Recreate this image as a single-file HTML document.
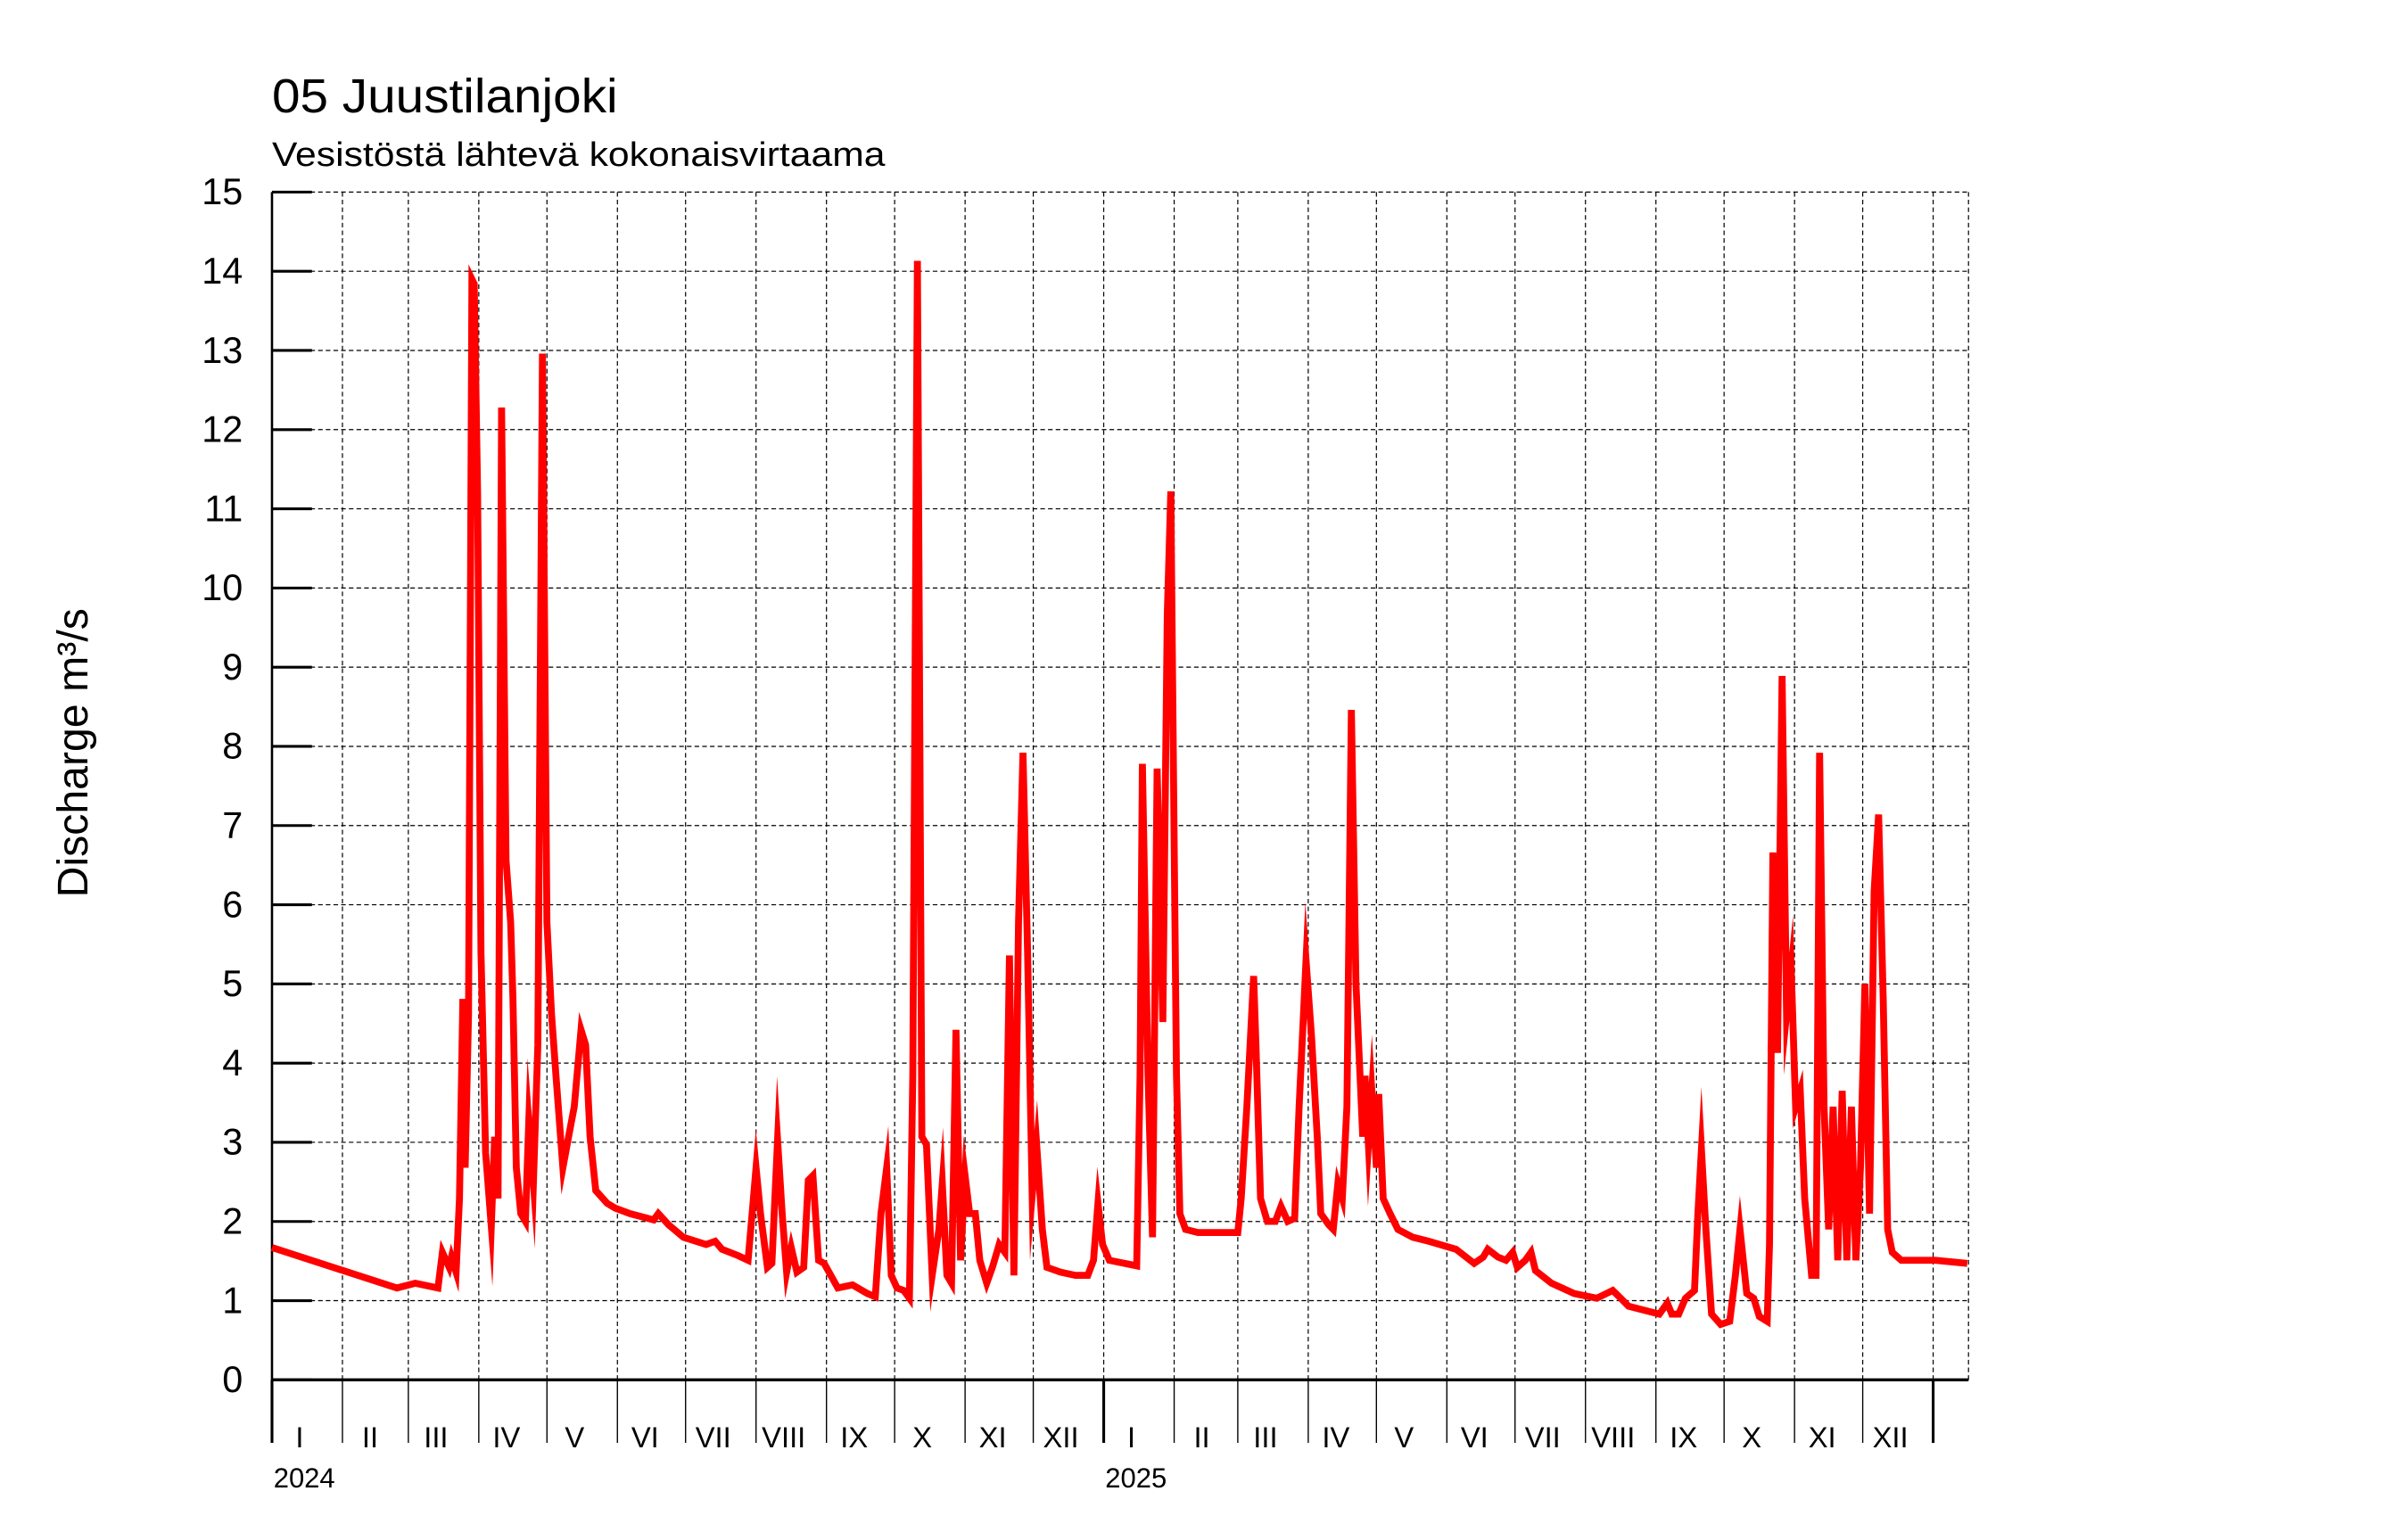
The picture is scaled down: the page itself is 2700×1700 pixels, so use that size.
<!DOCTYPE html>
<html><head><meta charset="utf-8"><title>05 Juustilanjoki</title>
<style>html,body{margin:0;padding:0;background:#fff}svg{display:block}</style></head>
<body>
<svg id="chart" width="2700" height="1700" viewBox="0 0 1567 986.6" preserveAspectRatio="none" xmlns="http://www.w3.org/2000/svg" font-family="'Liberation Sans', sans-serif">
<rect width="1567" height="986.6" fill="#fff"/>
<text x="177" y="73" font-size="31" textLength="225" lengthAdjust="spacingAndGlyphs">05 Juustilanjoki</text>
<text x="177" y="108" font-size="22" textLength="399" lengthAdjust="spacingAndGlyphs">Vesistöstä lähtevä kokonaisvirtaama</text>
<text transform="translate(57,490) rotate(-90)" text-anchor="middle" font-size="28">Discharge m³/s</text>
<g id="grid"></g>
<g id="axes"></g>
<g id="series"></g>
</svg>
<script>
const yTicks = [0,1,2,3,4,5,6,7,8,9,10,11,12,13,14,15];
const monthLabels = ["I","II","III","IV","V","VI","VII","VIII","IX","X","XI","XII"];
const monthDays2024 = [31,29,31,30,31,30,31,31,30,31,30,31];
const monthDays2025 = [31,28,31,30,31,30,31,31,30,31,30,31];
const years = ["2024","2025"];
const days = [0,55,63,73,75,78,79,81,82.5,84,85,86.5,88,89,90.5,92,94,96.5,98,99.5,101,103,105,106,107.5,109.5,111.5,113,115,117,119,121,123,125,128,130.5,133,136,138,140,142.5,147.5,151,157.5,168,170,174.5,181,191,195,198,205,209.5,211,213,215,218,220,222.5,224.5,226.5,228.5,231,234,236,238,240.5,243,249,255.5,262,265.5,268,270.5,272.5,275,278,280.5,282,284,286,288,290.5,293.5,295,297,299,301,303,305,307,309.5,311.5,314.5,317,320,322.5,324.5,326.5,328.5,330.5,332.5,334.5,336.5,339,341,347,353.5,359,361.5,363.5,365.5,368.5,380.5,382,383,385.5,387.5,389.5,392,394,395.5,397,398,399.5,402,407.5,425,426.5,429,432,433,435,438,441.5,444,447,450,452,455,457.5,460,461.5,465,467,469,471,473,475,477,480,481,482.5,484,486,487,489,492,495.5,502,509,521,529,533,535,539.5,543,546,548,551.5,554,556,563,573,583,590,593.5,597,610.5,614,616,619,622,626,627.5,629,631,633.5,637.5,641.5,644,646,649,652,654.5,658,659,660.5,662.5,664.5,666.5,668.5,670.5,672.5,674.5,677.5,679.5,681,683,685,687,689,691,693,695,697,699,701,703,705,707,709,711,713,717,732,746];
const values = [1.67,1.16,1.22,1.16,1.61,1.42,1.55,1.36,2.29,4.81,2.68,4.62,13.9,13.84,11.2,5.4,2.87,1.94,3.07,2.29,12.28,6.56,5.78,4.81,2.68,2.1,2.0,3.26,2.48,4.23,12.96,5.78,4.62,3.84,2.68,3.07,3.45,4.42,4.23,3.07,2.39,2.23,2.17,2.1,2.02,2.1,1.96,1.8,1.71,1.75,1.65,1.57,1.51,2.0,2.68,2.1,1.42,1.47,3.03,2.1,1.36,1.67,1.36,1.42,2.52,2.58,1.51,1.47,1.16,1.2,1.09,1.05,2.1,2.68,1.32,1.16,1.13,1.03,3.84,14.13,3.07,2.97,1.32,1.9,2.48,1.32,1.22,4.42,1.51,2.58,2.1,2.1,1.51,1.22,1.42,1.71,1.61,5.36,1.32,5.78,7.92,5.4,2.33,2.97,1.9,1.42,1.36,1.32,1.32,1.51,2.23,1.71,1.51,1.44,3.84,7.78,3.84,1.8,7.72,4.52,9.66,11.22,6.75,3.84,2.1,1.9,1.86,1.86,2.29,3.45,5.1,4.23,2.29,2.0,2.0,2.19,2.0,2.04,3.45,5.3,4.33,3.07,2.1,1.96,1.9,2.48,2.29,3.45,8.46,5.0,3.07,3.84,2.97,3.65,2.68,3.61,2.29,2.1,1.9,1.8,1.75,1.65,1.47,1.55,1.65,1.55,1.51,1.61,1.42,1.51,1.61,1.38,1.22,1.09,1.03,1.13,1.03,0.93,0.83,0.97,0.83,0.83,1.03,1.13,2.1,2.91,1.9,0.83,0.7,0.74,1.32,1.9,1.09,1.03,0.8,0.74,1.71,6.66,4.13,8.89,4.62,5.2,3.45,3.65,2.29,1.32,1.32,7.92,3.45,1.9,3.45,1.51,3.65,1.51,3.45,1.51,2.68,5.0,2.1,6.17,7.14,4.81,1.9,1.61,1.51,1.51,1.47];

const L=177,R=1281,T=125,B=898,DAYPX=(1258-177)/731;
const xs=d=>L+d*DAYPX;
const ys=v=>B-(v/15)*(B-T);
const NS="http://www.w3.org/2000/svg";
function mk(tag,parent,attrs){const e=document.createElementNS(NS,tag);for(const k in attrs)e.setAttribute(k,attrs[k]);parent.appendChild(e);return e;}
const grid=document.getElementById('grid'),axes=document.getElementById('axes'),series=document.getElementById('series');

yTicks.forEach(v=>{
  const y=ys(v);
  if(v>0){const g=mk('line',grid,{x1:L,x2:R,y1:y,y2:y,stroke:'#000','stroke-width':0.7,'stroke-dasharray':'3,2'});
  
  }
  const t=mk('line',axes,{x1:L,x2:L+26,y1:y,y2:y,stroke:'#000','stroke-width':1.8});
  
  
  const lb=mk('text',axes,{x:158,y:y+8,'text-anchor':'end','font-size':24});
  lb.textContent=String(v);
  
  
});
let d=0;
[monthDays2024,monthDays2025].forEach((md,yi)=>{
  const yl=mk('text',axes,{x:xs(d)+1,y:968,'font-size':18});
  yl.textContent=years[yi];
  
  
  md.forEach((n,mi)=>{
    const x=xs(d);
    if(d>0){const g=mk('line',grid,{x1:x,x2:x,y1:T,y2:B,stroke:'#000','stroke-width':0.7,'stroke-dasharray':'3,2'});
    
    }
    const big=(mi===0);
    const t=mk('line',axes,{x1:x,x2:x,y1:B,y2:B+41,stroke:'#000','stroke-width':big?1.8:0.8});
    
    
    const lb=mk('text',axes,{x:x+18,y:942,'text-anchor':'middle','font-size':19});
    lb.textContent=monthLabels[mi];
    
    
    d+=n;
  });
});
{const x=xs(d);
 const g=mk('line',grid,{x1:x,x2:x,y1:T,y2:B,stroke:'#000','stroke-width':0.7,'stroke-dasharray':'3,2'});
 
 
 const t=mk('line',axes,{x1:x,x2:x,y1:B,y2:B+41,stroke:'#000','stroke-width':1.8});
 
 }
const rg=mk('line',grid,{x1:R,x2:R,y1:T,y2:B,stroke:'#000','stroke-width':0.7,'stroke-dasharray':'3,2'});


const ya=mk('line',axes,{x1:L,x2:L,y1:T,y2:B+41,stroke:'#000','stroke-width':1.5});


const xa=mk('line',axes,{x1:L,x2:R,y1:B,y2:B,stroke:'#000','stroke-width':2});


const pts=days.map((dd,i)=>xs(dd).toFixed(1)+','+ys(values[i]).toFixed(1)).join(' ');
const pl=mk('polyline',series,{points:pts,fill:'none',stroke:'#ff0000','stroke-width':4.5,'stroke-linejoin':'miter','stroke-miterlimit':20});


</script>
</body></html>
